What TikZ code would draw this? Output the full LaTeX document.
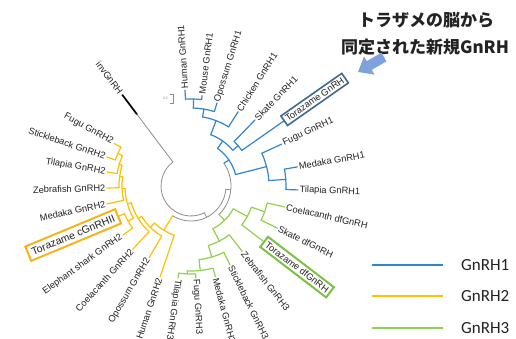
\documentclass[tikz,border=0pt]{standalone}
\usepackage{fontspec}
\setmainfont{Liberation Sans}
\newfontfamily\jpfont{Noto Sans CJK JP}
\newfontfamily\legfont{Carlito}
\definecolor{cb}{HTML}{2F85D0}
\definecolor{cy}{HTML}{FFC000}
\definecolor{cg}{HTML}{92D050}
\definecolor{cgr}{HTML}{8C8C8C}
\definecolor{boxb}{HTML}{41688F}
\definecolor{boxy}{HTML}{F4B41A}
\definecolor{boxg}{HTML}{7DC142}
\definecolor{arrowc}{HTML}{7EA3DC}
\definecolor{txt}{HTML}{222222}
\tikzset{
  br/.style={line width=1.2pt, line cap=round},
  bB/.style={br, draw=cb},
  bY/.style={br, draw=cy},
  bG/.style={br, draw=cg},
  bK/.style={br, draw=cgr, line width=0.8pt},
  leafw/.style={anchor=west, inner sep=1.5pt, text=txt, font=\fontsize{9.3}{10}\selectfont},
  leafe/.style={anchor=east, inner sep=1.5pt, text=txt, font=\fontsize{9.3}{10}\selectfont},
  legline/.style={line width=2.4pt},
  legtext/.style={anchor=west, inner sep=0pt, text=txt, font=\legfont\fontsize{17}{18}\selectfont},
}
\newcommand{\rbr}[4]{\draw[#1] (#2:#3) -- (#2:#4);}
\newcommand{\abr}[4]{\draw[#1] (#3:#2) arc[start angle=#3, end angle=#4, radius=#2pt];}
\newcommand{\leafR}[6]{\node[leafw, rotate=#3] (#2) at (#3:#5) {#6}; \draw[#1] (#3:#4) -- (#2.west);}
\newcommand{\leafL}[6]{\pgfmathsetmacro\myrot{#3-180}\node[leafe, rotate=\myrot] (#2) at (#3:#5) {#6}; \draw[#1] (#3:#4) -- (#2.east);}
\begin{document}
\begin{tikzpicture}[x=1pt,y=1pt]
\useasboundingbox (0,0) rectangle (516,339);
\begin{scope}[shift={(191,153)}]
% ---- gray root part
\abr{bK}{30}{127}{296.5}
\rbr{bK}{127}{30}{90}
\coordinate (invtip) at (127:114);
\draw[line width=1.7pt, black, line cap=round] (127:90) -- (invtip);
\node[leafe, rotate=-53] (inv) at (127:115) {invGnRH};
\rbr{bK}{296.5}{30}{35}
\abr{bK}{35}{238.4}{354.5}
\rbr{bK}{354.5}{35}{40}
\abr{bK}{40}{-45.6}{34.6}
% ---- stems
\rbr{bY}{238.4}{35}{52}
\rbr{bG}{-45.6}{40}{48}
\rbr{bB}{34.6}{40}{46}
% ---- GnRH2 (yellow)
\abr{bY}{52}{225.6}{251.2}
\leafL{bY}{hum2}{251.2}{52}{96}{Human GnRH2}
\rbr{bY}{225.6}{52}{58}
\abr{bY}{58}{211.5}{239.7}
\leafL{bY}{opo2}{239.7}{58}{83}{Opossum GnRH2}
\rbr{bY}{211.5}{58}{62}
\abr{bY}{62}{195.7}{227.4}
\leafL{bY}{coe2}{227.4}{62}{86}{Coelacanth GnRH2}
\rbr{bY}{195.7}{62}{66}
\abr{bY}{66}{182.2}{209.2}
\rbr{bY}{209.2}{66}{72}
\rbr{bY}{182.2}{66}{69}
\abr{bY}{72}{202.6}{215.8}
\leafL{bY}{ele2}{215.8}{72}{84}{Elephant shark GnRH2}
\node[leafe, rotate=22.6, draw=boxy, line width=2pt, inner sep=4pt, font=\fontsize{10.5}{11}\selectfont] (tcg) at (202.6:78) {Torazame cGnRHII};
\draw[bY] (202.6:72) -- (tcg.east);
\abr{bY}{69}{172.3}{192}
\leafL{bY}{med2}{192}{69}{86}{Medaka GnRH2}
\rbr{bY}{172.3}{69}{72}
\abr{bY}{72}{163.25}{181.4}
\leafL{bY}{zeb2}{181.4}{72}{84}{Zebrafish GnRH2}
\rbr{bY}{163.25}{72}{75}
\abr{bY}{75}{156}{170.5}
\leafL{bY}{til2}{170.5}{75}{85}{Tilapia GnRH2}
\rbr{bY}{156}{75}{80}
\abr{bY}{80}{151}{161}
\leafL{bY}{sti2}{161}{80}{89}{Stickleback GnRH2}
\leafL{bY}{fug2}{151}{80}{88}{Fugu GnRH2}
% ---- GnRH1 (blue)
\abr{bB}{46}{14.4}{54.8}
\rbr{bB}{14.4}{46}{78}
\rbr{bB}{54.8}{46}{55}
\abr{bB}{78}{4}{24.8}
\leafR{bB}{fug1}{24.8}{78}{100}{Fugu GnRH1}
\rbr{bB}{4}{78}{95}
\abr{bB}{95}{-2.1}{10.2}
\leafR{bB}{med1}{10.2}{95}{108}{Medaka GnRH1}
\leafR{bB}{til1}{-2.1}{95}{107}{Tilapia GnRH1}
\abr{bB}{55}{40.5}{69}
\rbr{bB}{40.5}{55}{62}
\rbr{bB}{69}{55}{70}
\abr{bB}{62}{35}{45.9}
\leafR{bB}{ska1}{45.9}{62}{92}{Skate GnRH1}
\node[leafw, rotate=35, draw=boxb, line width=1.6pt, inner sep=2.5pt] (tgn) at (35:113) {Torazame GnRH};
\draw[bB] (35:62) -- (tgn.west);
\abr{bB}{70}{57.6}{80.5}
\leafR{bB}{chi1}{57.6}{70}{88}{Chicken GnRH1}
\rbr{bB}{80.5}{70}{78}
\abr{bB}{78}{72.6}{88.3}
\leafR{bB}{opo1}{72.6}{78}{87}{Opossum GnRH1}
\rbr{bB}{88.3}{78}{87}
\abr{bB}{87}{83}{93.6}
\leafR{bB}{hum1}{93.6}{87}{96}{Human GnRH1}
\leafR{bB}{mou1}{83}{87}{91}{Mouse GnRH1}
% ---- GnRH3 (green)
\abr{bG}{48}{-62.8}{-28.35}
\rbr{bG}{-28.35}{48}{64}
\rbr{bG}{-62.8}{48}{62}
\abr{bG}{64}{-37.4}{-19.3}
\node[leafw, rotate=-37.4, draw=boxg, line width=2pt, inner sep=3pt] (tdf) at (-37.4:91) {Torazame dfGnRH};
\draw[bG] (-37.4:64) -- (tdf.west);
\rbr{bG}{-19.3}{64}{78}
\abr{bG}{78}{-26}{-12.6}
\leafR{bG}{coe3}{-12.6}{78}{96}{Coelacanth dfGnRH}
\leafR{bG}{ska3}{-26}{78}{96}{Skate dfGnRH}
\abr{bG}{62}{-73.7}{-51.9}
\leafR{bG}{zeb3}{-51.9}{62}{83}{Zebrafish GnRH3}
\rbr{bG}{-73.7}{62}{74}
\abr{bG}{74}{-83.75}{-63.7}
\leafR{bG}{sti3}{-63.7}{74}{88}{Stickleback GnRH3}
\rbr{bG}{-83.75}{74}{85}
\abr{bG}{85}{-92.5}{-75}
\leafR{bG}{med3}{-75}{85}{94}{Medaka GnRH3}
\rbr{bG}{-92.5}{85}{88}
\abr{bG}{88}{-98}{-87}
\leafR{bG}{fug3}{-87}{88}{92}{Fugu GnRH3}
\leafR{bG}{til3}{-98}{88}{93}{Tilapia GnRH3}
\end{scope}
% ---- scale bar
\draw[cgr, line width=0.6pt] (170,245) -- (173,245) -- (173,236) -- (170,236);
\node[text=cgr, font=\fontsize{3.5}{4}\selectfont, inner sep=0pt] (sc) at (165.5,240.5) {0.2};
% ---- callout
\node[font=\jpfont\bfseries\fontsize{17}{18}\selectfont, text=txt, inner sep=0pt] (jp1) at (426,319) {トラザメの脳から};
\node[font=\jpfont\bfseries\fontsize{17}{18}\selectfont, text=txt, inner sep=0pt] (jp2) at (425,292) {同定された新規GnRH};
\begin{scope}[shift={(384,282)}, rotate=210]
\fill[arrowc] (0,-5) -- (17,-5) -- (17,-10.5) -- (30,0) -- (17,10.5) -- (17,5) -- (0,5) -- cycle;
\end{scope}
% ---- legend
\coordinate (l1a) at (372,74); \coordinate (l1b) at (443,74);
\coordinate (l2a) at (372,43); \coordinate (l2b) at (443,43);
\coordinate (l3a) at (372,11); \coordinate (l3b) at (443,11);
\draw[legline, cb] (l1a) -- (l1b);
\draw[legline, cy] (l2a) -- (l2b);
\draw[legline, cg] (l3a) -- (l3b);
\node[legtext] (g1) at (461,74) {GnRH1};
\node[legtext] (g2) at (461,43) {GnRH2};
\node[legtext] (g3) at (461,11) {GnRH3};
\end{tikzpicture}
\end{document}
